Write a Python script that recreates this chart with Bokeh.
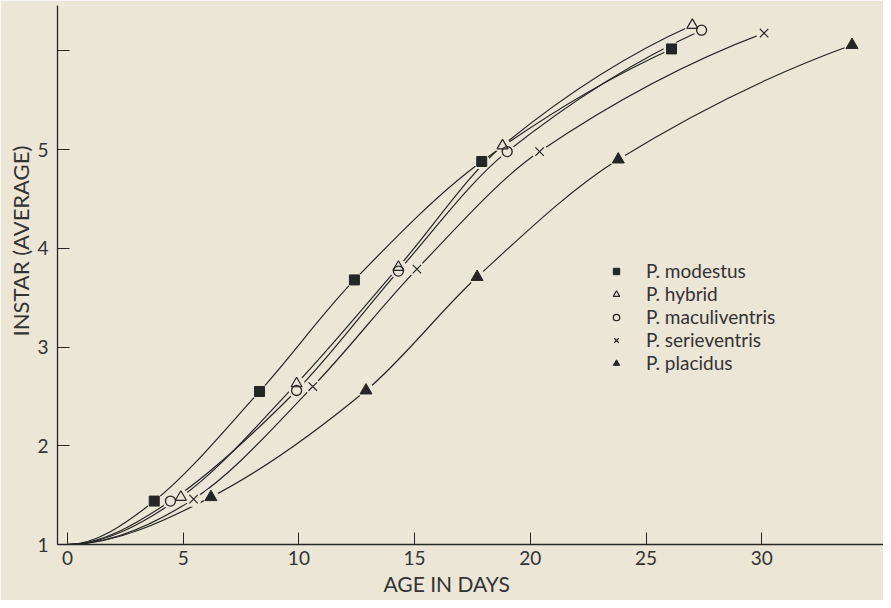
from bokeh.plotting import figure
from bokeh.models import FixedTicker, Legend, LegendItem, Title, Range1d
from bokeh.embed import file_html
from bokeh.resources import INLINE

# ---- data (age in days, average instar) ----
modestus_x = [3.75, 8.3, 12.4, 17.9, 26.1]
modestus_y = [1.44, 2.55, 3.68, 4.88, 6.02]
hybrid_x = [4.9, 9.9, 14.3, 18.8, 27.0]
hybrid_y = [1.48, 2.63, 3.81, 5.04, 6.26]
maculiventris_x = [4.45, 9.9, 14.3, 19.0, 27.4]
maculiventris_y = [1.44, 2.56, 3.77, 4.98, 6.21]
serieventris_x = [5.45, 10.6, 15.1, 20.4, 30.1]
serieventris_y = [1.46, 2.60, 3.79, 4.98, 6.18]
placidus_x = [6.2, 12.9, 17.7, 23.8, 33.9]
placidus_y = [1.48, 2.56, 3.71, 4.90, 6.06]
origin = (0.0, 1.0)

x_ticks = [0, 5, 10, 15, 20, 25, 30]
y_ticks = [1, 2, 3, 4, 5, 6]
y_tick_labels = ["1", "2", "3", "4", "5", ""]

labels = ["P. modestus", "P. hybrid", "P. maculiventris", "P. serieventris", "P. placidus"]

BG = "#ebe6d6"
INK = "#262626"
TXT = "#333333"
FONT = "Lato"

p = figure(width=883, height=600, output_backend="svg", toolbar_location=None,
           x_range=Range1d(-0.43, 35.26), y_range=Range1d(1.0, 6.46),
           min_border_left=57, min_border_right=0, min_border_top=5, min_border_bottom=56,
           background_fill_color=BG, border_fill_color=BG, outline_line_color=None)
p.grid.visible = False

for ax in (p.xaxis[0], p.yaxis[0]):
    ax.axis_line_color = INK
    ax.axis_line_width = 1.3
    ax.major_tick_line_color = INK
    ax.major_tick_in = 12
    ax.major_tick_out = 0
    ax.minor_tick_line_color = None
    ax.major_label_text_font = FONT
    ax.major_label_text_font_size = "19px"
    ax.major_label_text_color = TXT

p.xaxis.ticker = FixedTicker(ticks=x_ticks)
p.xaxis.major_label_standoff = 6
p.yaxis.ticker = FixedTicker(ticks=y_ticks)
p.yaxis.major_label_overrides = {t: l for t, l in zip(y_ticks, y_tick_labels)}
p.yaxis.major_label_standoff = 9

p.add_layout(Title(text="AGE IN DAYS", align="left", offset=326, text_font=FONT,
                   text_font_size="21px", text_font_style="normal", text_color=TXT,
                   standoff=3), "below")
p.add_layout(Title(text="INSTAR (AVERAGE)", align="left", offset=208, text_font=FONT,
                   text_font_size="22px", text_font_style="normal", text_color=TXT,
                   standoff=2), "left")


def bezier_segments(xs, ys):
    """Hermite curve through the points, expressed as cubic Bezier segments."""
    X = [origin[0]] + list(xs)
    Y = [origin[1]] + list(ys)
    n = len(X)
    m = [0.0] * n
    for i in range(1, n - 1):
        m[i] = (Y[i + 1] - Y[i - 1]) / (X[i + 1] - X[i - 1])
    sec = (Y[-1] - Y[-2]) / (X[-1] - X[-2])
    m[-1] = max(0.0, 2 * sec - m[-2])
    seg = dict(x0=[], y0=[], x1=[], y1=[], cx0=[], cy0=[], cx1=[], cy1=[])
    for i in range(n - 1):
        h = X[i + 1] - X[i]
        seg["x0"].append(X[i]); seg["y0"].append(Y[i])
        seg["x1"].append(X[i + 1]); seg["y1"].append(Y[i + 1])
        seg["cx0"].append(X[i] + h / 3); seg["cy0"].append(Y[i] + m[i] * h / 3)
        seg["cx1"].append(X[i + 1] - h / 3); seg["cy1"].append(Y[i + 1] - m[i + 1] * h / 3)
    return seg


series = [
    (modestus_x, modestus_y, dict(marker="square", size=10, fill_color=INK, line_color=INK)),
    (hybrid_x, hybrid_y, dict(marker="triangle", size=11, fill_color=None, line_color=INK, line_width=1.2)),
    (maculiventris_x, maculiventris_y, dict(marker="circle", size=10, fill_color=None, line_color=INK, line_width=1.3)),
    (serieventris_x, serieventris_y, dict(marker="x", size=12, line_color=INK, line_width=1.2)),
    (placidus_x, placidus_y, dict(marker="triangle", size=12, fill_color=INK, line_color=INK)),
]

for xs, ys, _ in series:
    s = bezier_segments(xs, ys)
    p.bezier(**s, line_color=INK, line_width=1.2)

# small gaps in the curves around each marker
for xs, ys, _ in series:
    p.scatter(xs, ys, marker="circle", size=16, fill_color=BG, line_color=None)

items = []
for (xs, ys, style), lab in zip(series, labels):
    r = p.scatter(xs, ys, **style)
    items.append(LegendItem(label=lab, renderers=[r]))

legend = Legend(items=items, location=(551, 170), padding=0, margin=0, spacing=-2,
                label_height=20, glyph_height=20, glyph_width=16, label_standoff=22,
                label_text_font=FONT, label_text_font_size="19px", label_text_color=TXT,
                background_fill_alpha=0, border_line_color=None)
p.add_layout(legend, "center")

open("out.html", "w").write(file_html(p, INLINE))
